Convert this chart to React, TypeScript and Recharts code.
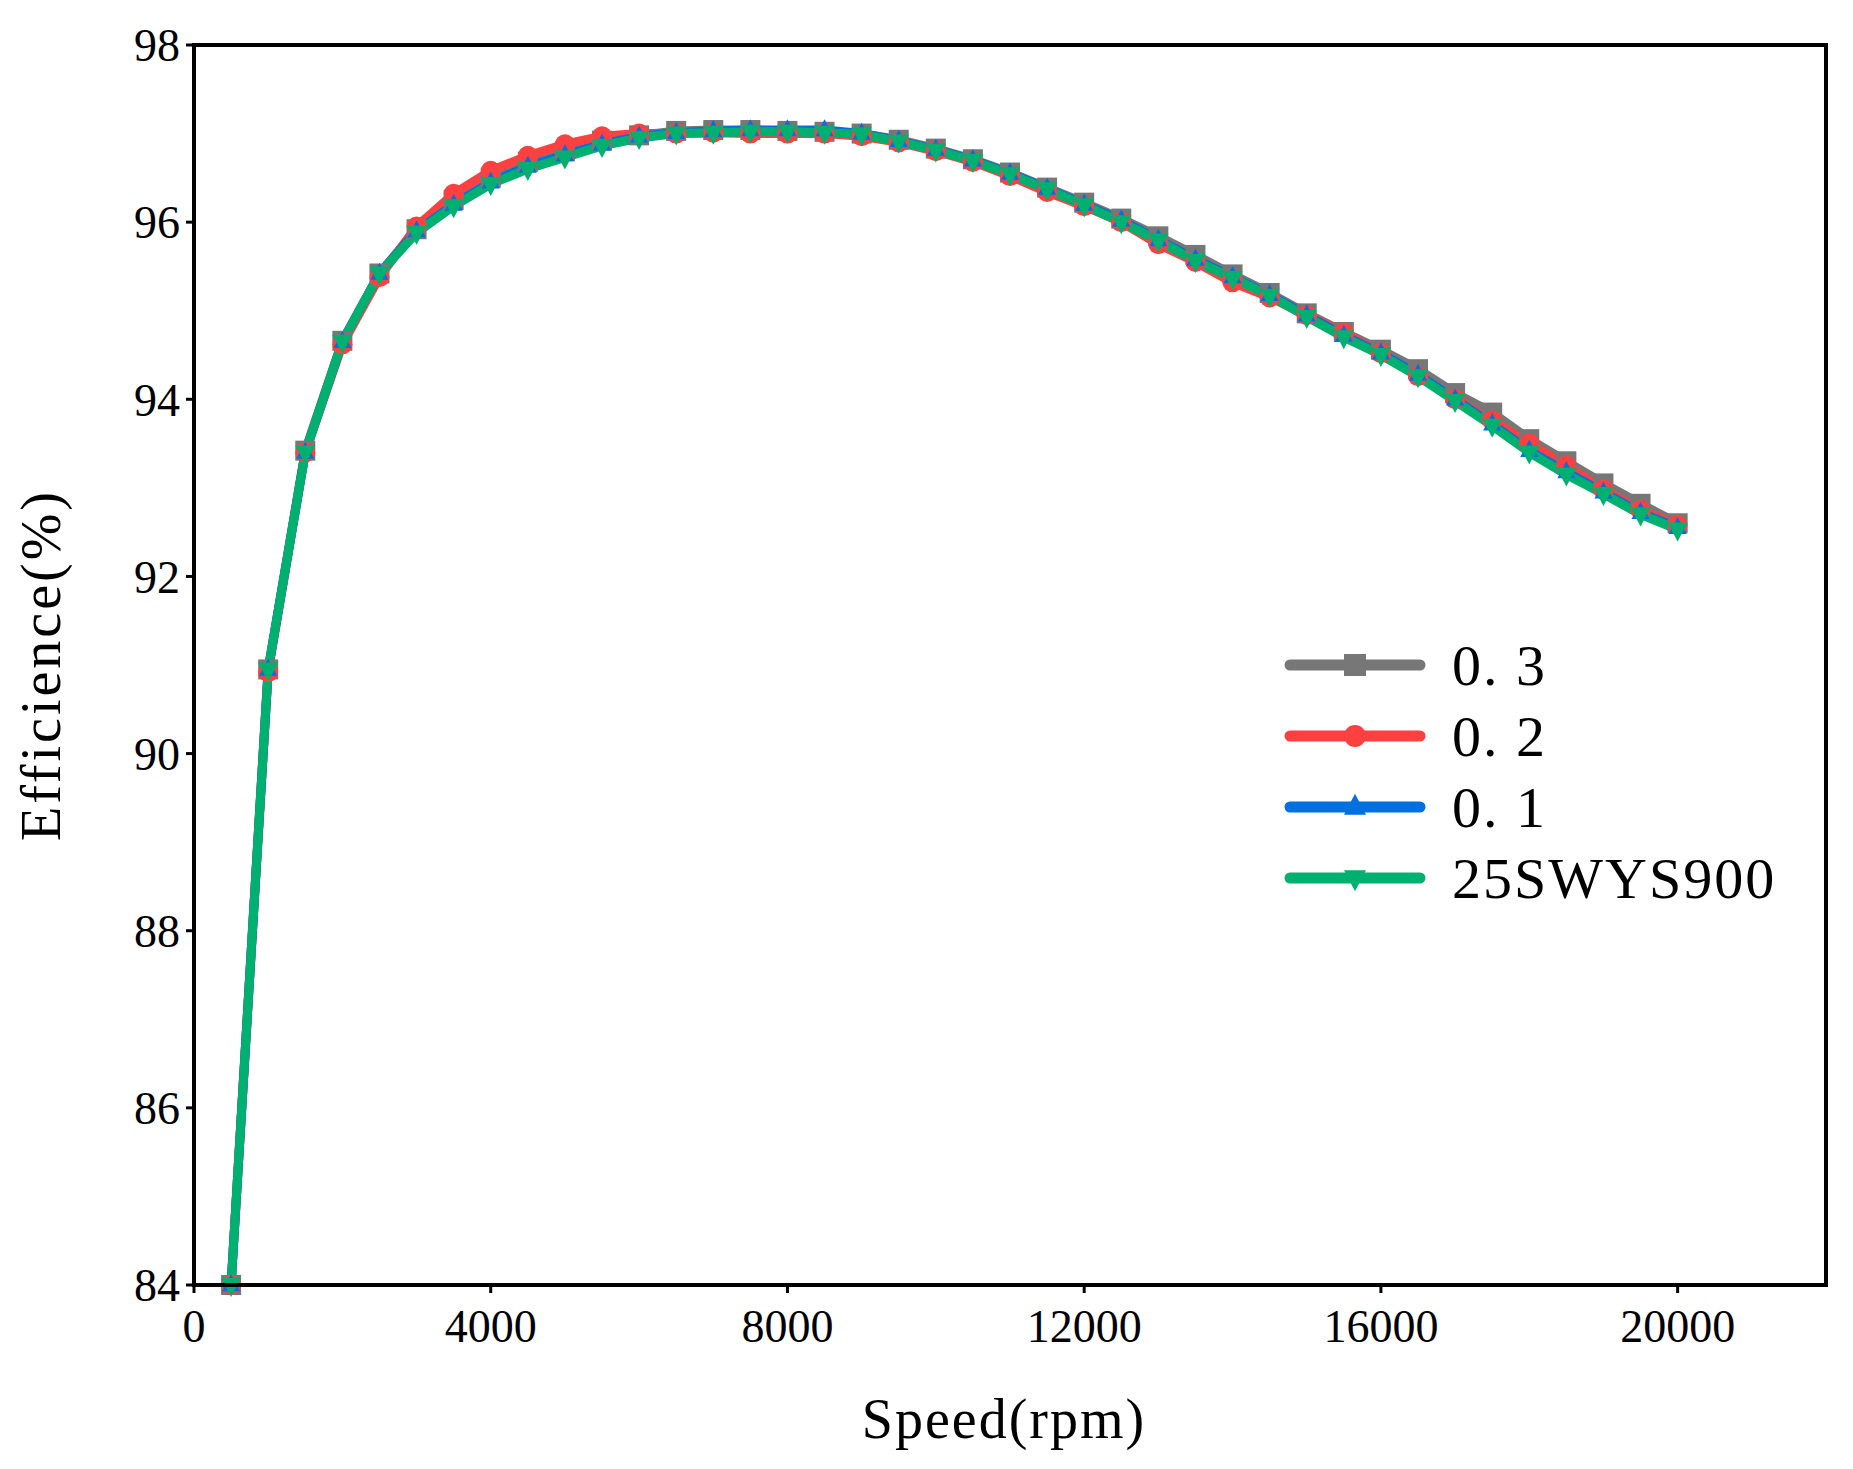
import React from 'react';
import { LineChart, Line, XAxis, YAxis } from 'recharts';

const speeds = [500,1000,1500,2000,2500,3000,3500,4000,4500,5000,5500,6000,6500,7000,7500,8000,8500,9000,9500,10000,10500,11000,11500,12000,12500,13000,13500,14000,14500,15000,15500,16000,16500,17000,17500,18000,18500,19000,19500,20000];
const s03 = [84.0,90.95,93.42,94.66,95.42,95.92,96.25,96.5,96.68,96.8,96.92,96.98,97.03,97.04,97.04,97.03,97.02,97.0,96.93,96.83,96.71,96.56,96.39,96.22,96.04,95.84,95.63,95.41,95.2,94.97,94.76,94.56,94.34,94.07,93.85,93.55,93.3,93.05,92.82,92.6];
const s02 = [84.0,90.92,93.4,94.62,95.38,95.95,96.32,96.58,96.75,96.88,96.97,97.0,97.0,97.01,97.0,97.0,97.0,96.97,96.9,96.8,96.68,96.52,96.34,96.18,96.0,95.75,95.55,95.32,95.15,94.95,94.75,94.52,94.26,94.0,93.76,93.5,93.25,92.98,92.75,92.58];
const s01 = [84.0,90.95,93.4,94.65,95.42,95.9,96.2,96.45,96.63,96.76,96.88,96.97,97.01,97.03,97.04,97.04,97.04,97.0,96.92,96.82,96.7,96.55,96.38,96.2,96.02,95.8,95.58,95.38,95.18,94.95,94.72,94.52,94.28,94.0,93.72,93.42,93.18,92.95,92.72,92.55];
const s25 = [84.0,90.95,93.4,94.65,95.42,95.88,96.18,96.43,96.6,96.73,96.86,96.95,97.0,97.01,97.02,97.02,97.01,96.99,96.91,96.81,96.69,96.54,96.37,96.19,96.0,95.79,95.56,95.37,95.17,94.93,94.7,94.5,94.26,93.98,93.7,93.4,93.15,92.93,92.7,92.53];
const xTicks = [0,4000,8000,12000,16000,20000];
const yTicks = [84,86,88,90,92,94,96,98];
const seriesNames = ['0. 3','0. 2','0. 1','25SWYS900'];
const seriesColors = ['#777777','#ff4040','#0070e0','#00b070'];
const seriesShapes = ['square','circle','triangle','down'];

const data = speeds.map((s, i) => ({ s, a: s03[i], b: s02[i], c: s01[i], d: s25[i] }));
const keys = ['a','b','c','d'];
const FONT = '"Liberation Serif", "DejaVu Serif", serif';

function Marker({ cx, cy, shape, color, r = 11 }: any) {
  if (cx == null || cy == null) return null;
  if (shape === 'square') return <rect x={cx - r} y={cy - r} width={2 * r} height={2 * r} fill={color} />;
  if (shape === 'circle') return <circle cx={cx} cy={cy} r={r} fill={color} />;
  if (shape === 'triangle') return <polygon points={`${cx},${cy - r * 1.2} ${cx - r},${cy + r * 0.7} ${cx + r},${cy + r * 0.7}`} fill={color} />;
  return <polygon points={`${cx},${cy + r * 1.2} ${cx - r},${cy - r * 0.7} ${cx + r},${cy - r * 0.7}`} fill={color} />;
}

export default function App() {
  return (
    <div style={{ position: 'relative', width: 1837, height: 1453, background: '#fff' }}>
      <LineChart width={1837} height={1453} data={data} margin={{ top: 37, right: 19, bottom: 0, left: 0 }}>
        <XAxis dataKey="s" type="number" domain={[0, 22000]} ticks={xTicks} height={176}
          axisLine={{ stroke: '#000', strokeWidth: 4 }} tickLine={{ stroke: '#000', strokeWidth: 3 }} tickSize={8}
          tick={{ fontSize: 46, fontFamily: FONT, fill: '#000', dy: 14 }} />
        <YAxis domain={[84, 98]} ticks={yTicks} width={186} interval={0}
          axisLine={{ stroke: '#000', strokeWidth: 4 }} tickLine={{ stroke: '#000', strokeWidth: 3 }} tickSize={8}
          tick={{ fontSize: 46, fontFamily: FONT, fill: '#000', dx: -4 }} />
        {keys.map((k, i) => (
          <Line key={k} dataKey={k} stroke={seriesColors[i]} strokeWidth={9} isAnimationActive={false}
            dot={(p: any) => <Marker key={`${k}-${p.index}`} cx={p.cx} cy={p.cy} shape={seriesShapes[i]} color={seriesColors[i]} r={i === 2 ? 9 : 10} />} />
        ))}
      </LineChart>
      <div style={{ position: 'absolute', left: 0, top: 0, pointerEvents: 'none' }}>
        <svg width={1837} height={1453}>
          <rect x={186} y={37} width={1632} height={1240} fill="none" stroke="#000" strokeWidth={4} />
          <text x={52} y={657} fontSize={56} fontFamily={FONT} textAnchor="middle" transform="rotate(-90 52 657)" letterSpacing={3}>Efficience(%)</text>
          <text x={996} y={1430} fontSize={56} fontFamily={FONT} textAnchor="middle" letterSpacing={2}>Speed(rpm)</text>
          {seriesNames.map((n, i) => {
            const y = 657 + i * 71;
            return (
              <g key={n}>
                <line x1={1282} x2={1412} y1={y} y2={y} stroke={seriesColors[i]} strokeWidth={11} strokeLinecap="round" />
                <Marker cx={1347} cy={y} shape={seriesShapes[i]} color={seriesColors[i]} r={11} />
                <text x={1444} y={y + 20} fontSize={58} fontFamily={FONT} fill="#000" letterSpacing={2}>{n}</text>
              </g>
            );
          })}
        </svg>
      </div>
    </div>
  );
}
